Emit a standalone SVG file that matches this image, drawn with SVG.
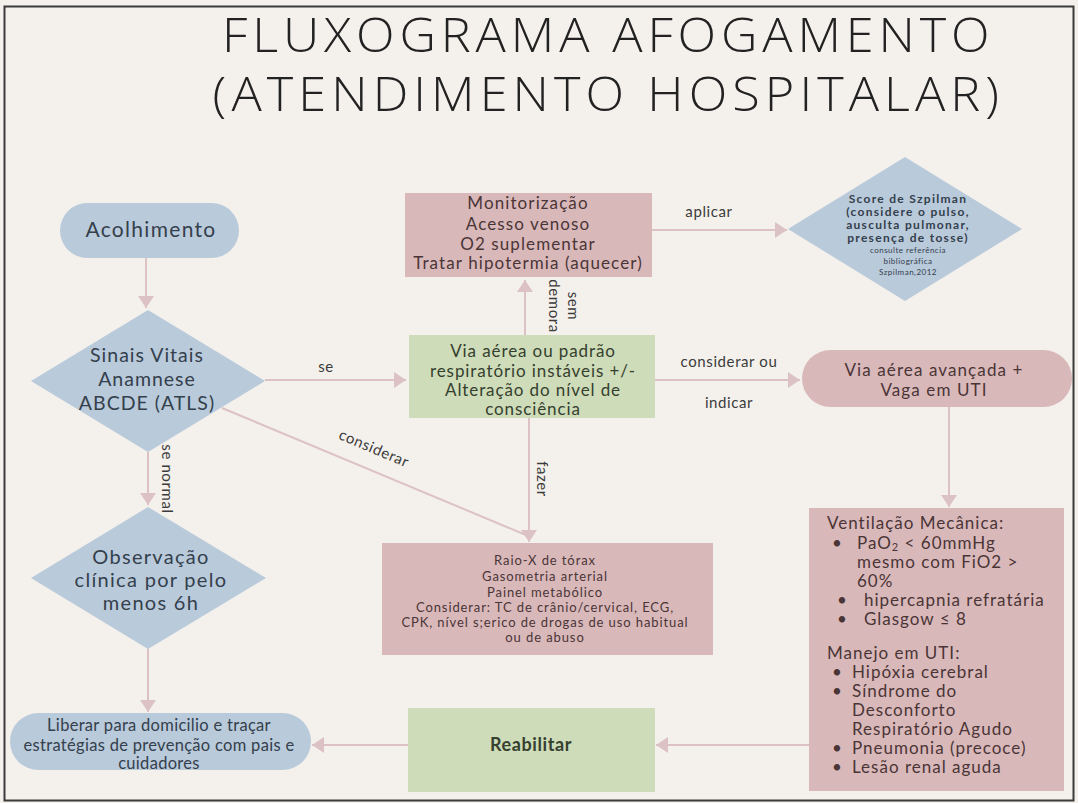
<svg xmlns="http://www.w3.org/2000/svg" width="1078" height="803" viewBox="0 0 1078 803">
<style>
.bg{fill:#f4f1ec}
.blue{fill:#b9cadb}
.pink{fill:#d9b8ba}
.green{fill:#cedcb9}
.con{stroke:#dcc2c2;stroke-width:2;fill:none}
.t{font-family:Lato,"Open Sans","Liberation Sans",sans-serif;fill:#34404c;text-anchor:middle}
.tp{font-family:Lato,"Open Sans","Liberation Sans",sans-serif;fill:#4a3536;text-anchor:middle}
.tg{font-family:Lato,"Open Sans","Liberation Sans",sans-serif;fill:#35402f;text-anchor:middle}
.lbl{font-family:Lato,"Open Sans","Liberation Sans",sans-serif;fill:#3b3b3b;font-size:15px;text-anchor:middle;letter-spacing:0.6px}
.lf{font-family:Lato,"Open Sans","Liberation Sans",sans-serif;fill:#4a3536;font-size:17px;letter-spacing:1px}
.title{font-family:"Open Sans","Liberation Sans",sans-serif;font-weight:300;fill:#222;font-size:48px;text-anchor:middle}
</style>
<defs>
<marker id="ah" markerUnits="userSpaceOnUse" markerWidth="14" markerHeight="16" refX="12" refY="8" orient="auto">
<path d="M0,0 L12,8 L0,16 z" fill="#dcc2c2"/>
</marker>
</defs>
<rect class="bg" x="0" y="0" width="1078" height="803"/>
<rect x="4.5" y="6.5" width="1069" height="794" fill="#f4f1ec" stroke="#3a3a3a" stroke-width="2"/>

<g id="title">
<text class="title" transform="scale(1.05,1)" x="577" y="52" textLength="731" lengthAdjust="spacing">FLUXOGRAMA AFOGAMENTO</text>
<text class="title" transform="scale(1.05,1)" x="577" y="111" textLength="749" lengthAdjust="spacing">(ATENDIMENTO HOSPITALAR)</text>
</g>

<g id="connectors">
<path class="con" d="M146,258 V308" marker-end="url(#ah)"/>
<path class="con" d="M265,380 H406" marker-end="url(#ah)"/>
<path class="con" d="M525,335 V280" marker-end="url(#ah)"/>
<path class="con" d="M652,230 H787" marker-end="url(#ah)"/>
<path class="con" d="M655,380 H800" marker-end="url(#ah)"/>
<path class="con" d="M949,407 V507" marker-end="url(#ah)"/>
<path class="con" d="M809,745 H656" marker-end="url(#ah)"/>
<path class="con" d="M408,745 H312" marker-end="url(#ah)"/>
<path class="con" d="M148,452 V505" marker-end="url(#ah)"/>
<path class="con" d="M148,648 V712" marker-end="url(#ah)"/>
<path class="con" d="M529,418 V542" marker-end="url(#ah)"/>
<path class="con" d="M222,408 L526,535"/>
<text class="lbl" x="326" y="372">se</text>
<text class="lbl" x="709" y="217">aplicar</text>
<text class="lbl" x="729" y="367" font-size="16.5" letter-spacing="1.2">considerar ou</text>
<text class="lbl" x="729" y="408" font-size="16.5" letter-spacing="1.2">indicar</text>
<text class="lbl" transform="translate(372,453) rotate(22.9)" font-size="14.5">considerar</text>
<text class="lbl" transform="translate(162,479) rotate(90)" font-size="14">se normal</text>
<text class="lbl" transform="translate(537,479) rotate(90)" font-size="16">fazer</text>
<text class="lbl" transform="translate(568,306) rotate(90)" font-size="14">sem</text>
<text class="lbl" transform="translate(549,306) rotate(90)" font-size="14">demora</text>
</g>

<g id="acolhimento">
<rect class="blue" x="60" y="203" width="179" height="55" rx="27.5"/>
<text class="t" x="151" y="237" font-size="21" letter-spacing="1.3">Acolhimento</text>
</g>

<g id="sinais">
<polygon class="blue" points="148,310 265,381 148,452 31,381"/>
<text class="t" x="147" y="362" font-size="19.5" letter-spacing="1">Sinais Vitais</text>
<text class="t" x="147" y="386" font-size="19.5" letter-spacing="1">Anamnese</text>
<text class="t" x="147" y="410" font-size="19.5" letter-spacing="1">ABCDE (ATLS)</text>
</g>

<g id="observacao">
<polygon class="blue" points="148,507 266,578 148,649 31,578"/>
<text class="t" x="151" y="564" font-size="20" letter-spacing="1.3">Observação</text>
<text class="t" x="151" y="587" font-size="20" letter-spacing="1.3">clínica por pelo</text>
<text class="t" x="151" y="610" font-size="20" letter-spacing="1.3">menos 6h</text>
</g>

<g id="liberar">
<rect class="blue" x="10" y="713" width="301" height="57" rx="28.5"/>
<text class="t" x="159" y="731" font-size="16.5" letter-spacing="0.3">Liberar para domicilio e traçar</text>
<text class="t" x="159" y="751" font-size="16.5" letter-spacing="0.3">estratégias de prevenção com pais e</text>
<text class="t" x="159" y="769" font-size="16.5" letter-spacing="0.3">cuidadores</text>
</g>

<g id="monitorizacao">
<rect class="pink" x="405" y="193" width="247" height="84"/>
<text class="tp" x="528" y="209" font-size="17" letter-spacing="1.1">Monitorização</text>
<text class="tp" x="528" y="230" font-size="17" letter-spacing="1.1">Acesso venoso</text>
<text class="tp" x="528" y="250" font-size="17" letter-spacing="1.1">O2 suplementar</text>
<text class="tp" x="528" y="269" font-size="17" letter-spacing="1.1">Tratar hipotermia (aquecer)</text>
</g>

<g id="szpilman">
<polygon class="blue" points="905,157 1022,229 905,301 788,229"/>
<text class="t" x="908" y="203" font-size="12" font-weight="bold" letter-spacing="1.3">Score de Szpilman</text>
<text class="t" x="908" y="216" font-size="12" font-weight="bold" letter-spacing="1.3">(considere o pulso,</text>
<text class="t" x="908" y="229" font-size="12" font-weight="bold" letter-spacing="1.3">ausculta pulmonar,</text>
<text class="t" x="908" y="242" font-size="12" font-weight="bold" letter-spacing="1.3">presença de tosse)</text>
<text class="t" x="908" y="253" font-size="8" letter-spacing="0.5">consulte referência</text>
<text class="t" x="908" y="264" font-size="8" letter-spacing="0.5">bibliográfica</text>
<text class="t" x="908" y="275" font-size="8" letter-spacing="0.5">Szpilman,2012</text>
</g>

<g id="via-aerea">
<rect class="green" x="409" y="335" width="246" height="83"/>
<text class="tg" x="533" y="357" font-size="17" letter-spacing="0.9">Via aérea ou padrão</text>
<text class="tg" x="533" y="377" font-size="17" letter-spacing="0.9">respiratório instáveis +/-</text>
<text class="tg" x="533" y="396" font-size="17" letter-spacing="0.9">Alteração do nível de</text>
<text class="tg" x="533" y="415" font-size="17" letter-spacing="0.9">consciência</text>
</g>

<g id="via-avancada">
<rect class="pink" x="802" y="350" width="270" height="57" rx="28.5"/>
<text class="tp" x="934" y="376" font-size="17" letter-spacing="1.1">Via aérea avançada +</text>
<text class="tp" x="934" y="396" font-size="17" letter-spacing="1.1">Vaga em UTI</text>
</g>

<g id="exames">
<rect class="pink" x="382" y="543" width="331" height="112"/>
<text class="tp" x="545" y="565" font-size="13" letter-spacing="0.9">Raio-X de tórax</text>
<text class="tp" x="545" y="581" font-size="13" letter-spacing="0.9">Gasometria arterial</text>
<text class="tp" x="545" y="597" font-size="13" letter-spacing="0.9">Painel metabólico</text>
<text class="tp" x="545" y="612" font-size="13" letter-spacing="0.9">Considerar: TC de crânio/cervical, ECG,</text>
<text class="tp" x="545" y="627" font-size="13" letter-spacing="0.9">CPK, nível s;erico de drogas de uso habitual</text>
<text class="tp" x="545" y="642" font-size="13" letter-spacing="0.9">ou de abuso</text>
</g>

<g id="ventilacao">
<rect class="pink" x="809" y="508" width="255" height="283"/>
<text class="lf" x="827" y="529">Ventilação Mecânica:</text>
<text class="lf" x="832" y="549">•</text>
<text class="lf" x="857" y="549">PaO<tspan font-size="11" dy="2">2</tspan><tspan dy="-2"> &lt; 60mmHg</tspan></text>
<text class="lf" x="857" y="568">mesmo com FiO2 &gt;</text>
<text class="lf" x="857" y="587">60%</text>
<text class="lf" x="837" y="606">•</text>
<text class="lf" x="864" y="606">hipercapnia refratária</text>
<text class="lf" x="837" y="625">•</text>
<text class="lf" x="864" y="625">Glasgow ≤ 8</text>
<text class="lf" x="827" y="659">Manejo em UTI:</text>
<text class="lf" x="832" y="678">•</text>
<text class="lf" x="852" y="678">Hipóxia cerebral</text>
<text class="lf" x="832" y="697">•</text>
<text class="lf" x="852" y="697">Síndrome do</text>
<text class="lf" x="852" y="716">Desconforto</text>
<text class="lf" x="852" y="735">Respiratório Agudo</text>
<text class="lf" x="832" y="754">•</text>
<text class="lf" x="852" y="754">Pneumonia (precoce)</text>
<text class="lf" x="832" y="773">•</text>
<text class="lf" x="852" y="773">Lesão renal aguda</text>
</g>

<g id="reabilitar">
<rect class="green" x="408" y="708" width="247" height="84"/>
<text class="tg" x="531" y="751" font-size="18" font-weight="bold" letter-spacing="0.6">Reabilitar</text>
</g>
</svg>
